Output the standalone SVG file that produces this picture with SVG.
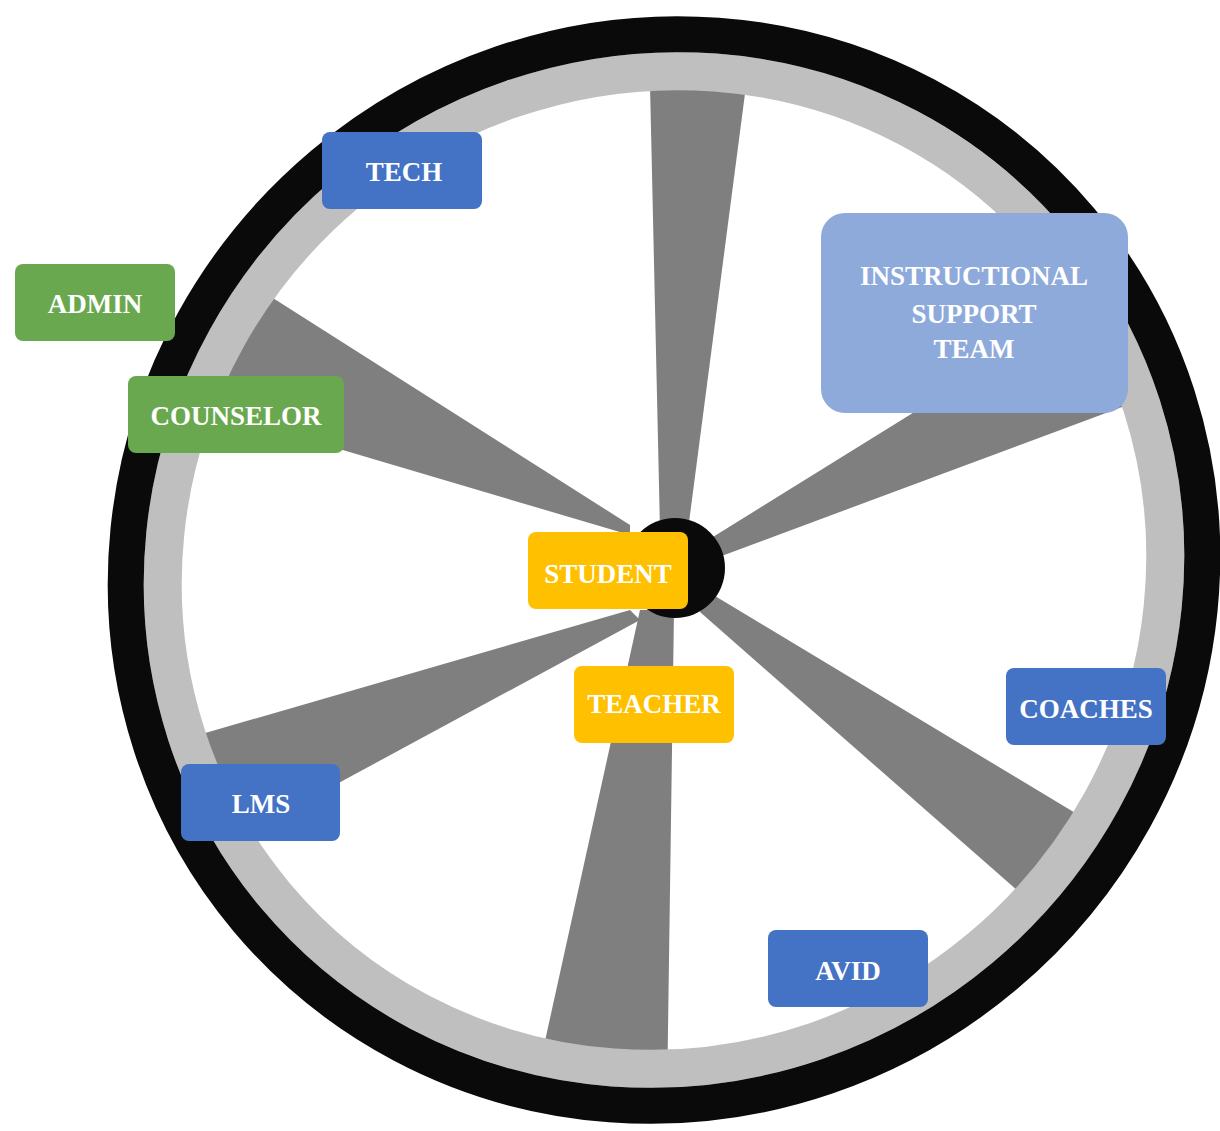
<svg xmlns="http://www.w3.org/2000/svg" width="1220" height="1131" viewBox="0 0 1220 1131">
  <style>
    .spoke { fill: #7f7f7f; }
    .box text { font-family: "Liberation Serif", "Times New Roman", serif; font-weight: bold; font-size: 27px; fill: #ffffff; text-anchor: middle; }
    .blue rect { fill: #4472c4; }
    .green rect { fill: #6aa84f; }
    .gold rect { fill: #ffc000; }
    .pale rect { fill: #8eaadb; }
  </style>
  <defs>
    <clipPath id="wheelInside">
      <ellipse cx="664" cy="570" rx="512" ry="498" transform="rotate(-40 664 570)"/>
    </clipPath>
  </defs>
  <rect width="1220" height="1131" fill="#ffffff"/>

  <!-- wheel: spokes, rims, hub -->
  <g id="wheel">
    <g id="spokes" clip-path="url(#wheelInside)">
      <polygon class="spoke" points="649,40 752,40 688,530 660,530"/>
      <polygon class="spoke" points="700,545 1200,235 1200,378 700,564"/>
      <polygon class="spoke" points="705,590 1150,858 1100,963 700,612"/>
      <polygon class="spoke" points="640,610 674,610 667,1100 532,1100"/>
      <polygon class="spoke" points="630,610 150,749 150,885 640,620"/>
      <polygon class="spoke" points="630,525 180,239 180,402 630,535"/>
    </g>
    <ellipse id="inner-rim" cx="664" cy="570" rx="507" ry="493" transform="rotate(-40 664 570)" fill="none" stroke="#bfbfbf" stroke-width="38"/>
    <ellipse id="outer-rim" cx="664" cy="570" rx="544" ry="530" transform="rotate(-40 664 570)" fill="none" stroke="#0a0a0a" stroke-width="36"/>
    <circle id="hub" cx="675" cy="568" r="50" fill="#0a0a0a"/>
  </g>

  <!-- labels -->
  <g id="tech" class="box blue">
    <rect x="322" y="132" width="160" height="77" rx="8"/>
    <text x="404" y="181">TECH</text>
  </g>
  <g id="admin" class="box green">
    <rect x="15" y="264" width="160" height="77" rx="8"/>
    <text x="95" y="313">ADMIN</text>
  </g>
  <g id="counselor" class="box green">
    <rect x="128" y="376" width="216" height="77" rx="8"/>
    <text x="236" y="425">COUNSELOR</text>
  </g>
  <g id="instructional-support-team" class="box pale">
    <rect x="821" y="213" width="307" height="200" rx="24"/>
    <text x="974" y="285">INSTRUCTIONAL</text>
    <text x="974" y="323">SUPPORT</text>
    <text x="974" y="358">TEAM</text>
  </g>
  <g id="student" class="box gold">
    <rect x="528" y="532" width="160" height="77" rx="8"/>
    <text x="608" y="583">STUDENT</text>
  </g>
  <g id="teacher" class="box gold">
    <rect x="574" y="666" width="160" height="77" rx="8"/>
    <text x="654" y="713">TEACHER</text>
  </g>
  <g id="coaches" class="box blue">
    <rect x="1006" y="668" width="160" height="77" rx="8"/>
    <text x="1086" y="718">COACHES</text>
  </g>
  <g id="lms" class="box blue">
    <rect x="181" y="764" width="159" height="77" rx="8"/>
    <text x="261" y="813">LMS</text>
  </g>
  <g id="avid" class="box blue">
    <rect x="768" y="930" width="160" height="77" rx="8"/>
    <text x="848" y="980">AVID</text>
  </g>
</svg>
